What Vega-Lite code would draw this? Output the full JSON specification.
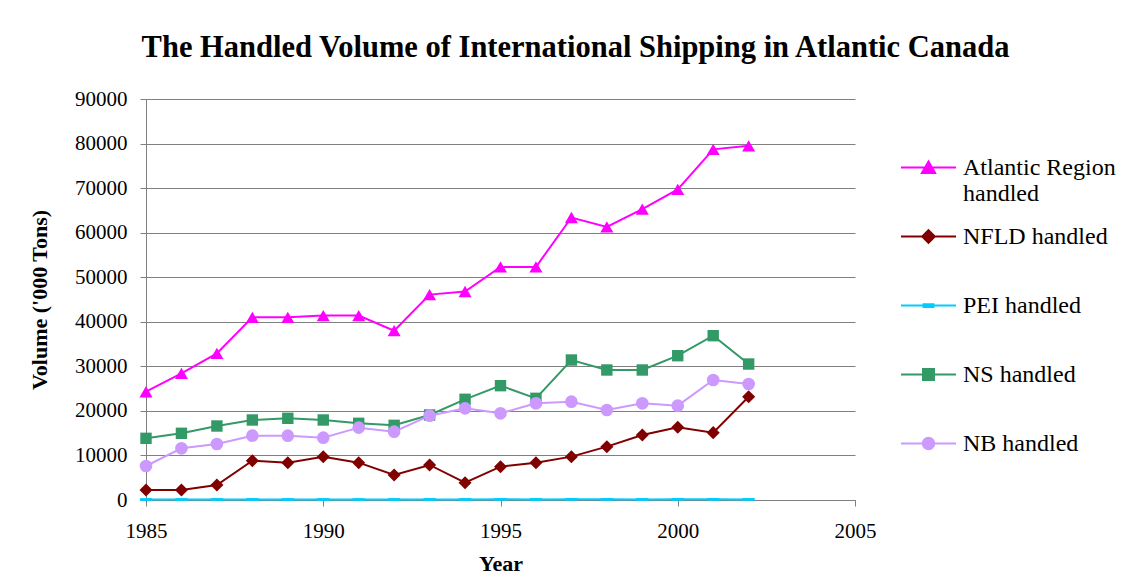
{
  "$schema": "https://vega.github.io/schema/vega-lite/v6.json",
  "width": 709,
  "height": 401,
  "autosize": {"type": "none"},
  "padding": {"left": 146, "top": 99, "right": 280, "bottom": 83},
  "background": "white",
  "title": {
    "text": "The Handled Volume of International Shipping in Atlantic Canada",
    "font": "Liberation Serif",
    "fontSize": 30.5,
    "fontWeight": "bold",
    "color": "black",
    "anchor": "middle",
    "baseline": "alphabetic",
    "offset": 1,
    "dx": 75
  },
  "config": {
    "view": {"stroke": null},
    "font": "Liberation Serif",
    "axis": {
      "labelFont": "Liberation Serif",
      "titleFont": "Liberation Serif",
      "labelColor": "black",
      "titleColor": "black",
      "domainColor": "#808080",
      "tickColor": "#808080",
      "gridColor": "#808080",
      "gridOpacity": 1,
      "domainWidth": 1,
      "tickWidth": 1,
      "gridWidth": 1,
      "tickSize": 6,
      "labelFontSize": 21,
      "titleFontSize": 22,
      "titleFontWeight": "bold"
    },
    "legend": {
      "labelFont": "Liberation Serif",
      "labelFontSize": 24,
      "labelColor": "black",
      "symbolStrokeWidth": 2,
      "symbolSize": 3025,
      "symbolOpacity": 1
    }
  },
  "data": {
    "values": [
      {"year": 1985, "series": "Atlantic Region handled", "value": 24300},
      {"year": 1986, "series": "Atlantic Region handled", "value": 28400},
      {"year": 1987, "series": "Atlantic Region handled", "value": 32900},
      {"year": 1988, "series": "Atlantic Region handled", "value": 41000},
      {"year": 1989, "series": "Atlantic Region handled", "value": 41000},
      {"year": 1990, "series": "Atlantic Region handled", "value": 41400},
      {"year": 1991, "series": "Atlantic Region handled", "value": 41400},
      {"year": 1992, "series": "Atlantic Region handled", "value": 38000},
      {"year": 1993, "series": "Atlantic Region handled", "value": 46100},
      {"year": 1994, "series": "Atlantic Region handled", "value": 46800},
      {"year": 1995, "series": "Atlantic Region handled", "value": 52300},
      {"year": 1996, "series": "Atlantic Region handled", "value": 52300},
      {"year": 1997, "series": "Atlantic Region handled", "value": 63400},
      {"year": 1998, "series": "Atlantic Region handled", "value": 61300},
      {"year": 1999, "series": "Atlantic Region handled", "value": 65300},
      {"year": 2000, "series": "Atlantic Region handled", "value": 69700},
      {"year": 2001, "series": "Atlantic Region handled", "value": 78700},
      {"year": 2002, "series": "Atlantic Region handled", "value": 79500},
      {"year": 1985, "series": "NFLD handled", "value": 2240},
      {"year": 1986, "series": "NFLD handled", "value": 2240},
      {"year": 1987, "series": "NFLD handled", "value": 3370},
      {"year": 1988, "series": "NFLD handled", "value": 8830},
      {"year": 1989, "series": "NFLD handled", "value": 8380},
      {"year": 1990, "series": "NFLD handled", "value": 9730},
      {"year": 1991, "series": "NFLD handled", "value": 8380},
      {"year": 1992, "series": "NFLD handled", "value": 5610},
      {"year": 1993, "series": "NFLD handled", "value": 7860},
      {"year": 1994, "series": "NFLD handled", "value": 3890},
      {"year": 1995, "series": "NFLD handled", "value": 7480},
      {"year": 1996, "series": "NFLD handled", "value": 8380},
      {"year": 1997, "series": "NFLD handled", "value": 9730},
      {"year": 1998, "series": "NFLD handled", "value": 11970},
      {"year": 1999, "series": "NFLD handled", "value": 14590},
      {"year": 2000, "series": "NFLD handled", "value": 16310},
      {"year": 2001, "series": "NFLD handled", "value": 15120},
      {"year": 2002, "series": "NFLD handled", "value": 23190},
      {"year": 1985, "series": "PEI handled", "value": 120},
      {"year": 1986, "series": "PEI handled", "value": 110},
      {"year": 1987, "series": "PEI handled", "value": 130},
      {"year": 1988, "series": "PEI handled", "value": 140},
      {"year": 1989, "series": "PEI handled", "value": 120},
      {"year": 1990, "series": "PEI handled", "value": 130},
      {"year": 1991, "series": "PEI handled", "value": 110},
      {"year": 1992, "series": "PEI handled", "value": 120},
      {"year": 1993, "series": "PEI handled", "value": 140},
      {"year": 1994, "series": "PEI handled", "value": 130},
      {"year": 1995, "series": "PEI handled", "value": 150},
      {"year": 1996, "series": "PEI handled", "value": 140},
      {"year": 1997, "series": "PEI handled", "value": 160},
      {"year": 1998, "series": "PEI handled", "value": 150},
      {"year": 1999, "series": "PEI handled", "value": 140},
      {"year": 2000, "series": "PEI handled", "value": 160},
      {"year": 2001, "series": "PEI handled", "value": 150},
      {"year": 2002, "series": "PEI handled", "value": 140},
      {"year": 1985, "series": "NS handled", "value": 13840},
      {"year": 1986, "series": "NS handled", "value": 14970},
      {"year": 1987, "series": "NS handled", "value": 16610},
      {"year": 1988, "series": "NS handled", "value": 17960},
      {"year": 1989, "series": "NS handled", "value": 18330},
      {"year": 1990, "series": "NS handled", "value": 17960},
      {"year": 1991, "series": "NS handled", "value": 17210},
      {"year": 1992, "series": "NS handled", "value": 16760},
      {"year": 1993, "series": "NS handled", "value": 19080},
      {"year": 1994, "series": "NS handled", "value": 22600},
      {"year": 1995, "series": "NS handled", "value": 25660},
      {"year": 1996, "series": "NS handled", "value": 22820},
      {"year": 1997, "series": "NS handled", "value": 31420},
      {"year": 1998, "series": "NS handled", "value": 29180},
      {"year": 1999, "series": "NS handled", "value": 29180},
      {"year": 2000, "series": "NS handled", "value": 32390},
      {"year": 2001, "series": "NS handled", "value": 36880},
      {"year": 2002, "series": "NS handled", "value": 30520},
      {"year": 1985, "series": "NB handled", "value": 7630},
      {"year": 1986, "series": "NB handled", "value": 11600},
      {"year": 1987, "series": "NB handled", "value": 12570},
      {"year": 1988, "series": "NB handled", "value": 14440},
      {"year": 1989, "series": "NB handled", "value": 14440},
      {"year": 1990, "series": "NB handled", "value": 13990},
      {"year": 1991, "series": "NB handled", "value": 16240},
      {"year": 1992, "series": "NB handled", "value": 15340},
      {"year": 1993, "series": "NB handled", "value": 18930},
      {"year": 1994, "series": "NB handled", "value": 20570},
      {"year": 1995, "series": "NB handled", "value": 19450},
      {"year": 1996, "series": "NB handled", "value": 21700},
      {"year": 1997, "series": "NB handled", "value": 22070},
      {"year": 1998, "series": "NB handled", "value": 20200},
      {"year": 1999, "series": "NB handled", "value": 21700},
      {"year": 2000, "series": "NB handled", "value": 21170},
      {"year": 2001, "series": "NB handled", "value": 26930},
      {"year": 2002, "series": "NB handled", "value": 26030}
    ]
  },
  "encoding": {
    "x": {
      "field": "year",
      "type": "quantitative",
      "scale": {"domain": [1985, 2005], "nice": false, "zero": false},
      "axis": {
        "title": "Year",
        "values": [1985, 1990, 1995, 2000, 2005],
        "format": "d",
        "grid": false,
        "labelPadding": 14,
        "titlePadding": 12,
        "labelFlush": false
      }
    },
    "y": {
      "field": "value",
      "type": "quantitative",
      "scale": {"domain": [0, 90000], "nice": false},
      "axis": {
        "title": "Volume ('000 Tons)",
        "values": [0, 10000, 20000, 30000, 40000, 50000, 60000, 70000, 80000, 90000],
        "format": "d",
        "grid": true,
        "labelPadding": 13,
        "titlePadding": 23
      }
    }
  },
  "layer": [
    {
      "transform": [{"filter": "datum.series == 'Atlantic Region handled'"}],
      "mark": {"type": "line", "strokeWidth": 2, "color": "#FF00FF"},
      "encoding": {"order": {"field": "year"}}
    },
    {
      "transform": [{"filter": "datum.series == 'NFLD handled'"}],
      "mark": {"type": "line", "strokeWidth": 2, "color": "#800000"},
      "encoding": {"order": {"field": "year"}}
    },
    {
      "transform": [{"filter": "datum.series == 'PEI handled'"}],
      "mark": {"type": "line", "strokeWidth": 2, "color": "#00CCFF"},
      "encoding": {"order": {"field": "year"}}
    },
    {
      "transform": [{"filter": "datum.series == 'NS handled'"}],
      "mark": {"type": "line", "strokeWidth": 2, "color": "#339966"},
      "encoding": {"order": {"field": "year"}}
    },
    {
      "transform": [{"filter": "datum.series == 'NB handled'"}],
      "mark": {"type": "line", "strokeWidth": 2, "color": "#CC99FF"},
      "encoding": {"order": {"field": "year"}}
    },
    {
      "transform": [{"filter": "datum.series == 'Atlantic Region handled'"}],
      "mark": {"type": "point", "filled": true, "opacity": 1, "size": 170, "shape": "triangle-up", "color": "#FF00FF"},
      "encoding": {}
    },
    {
      "transform": [{"filter": "datum.series == 'NFLD handled'"}],
      "mark": {"type": "point", "filled": true, "opacity": 1, "size": 170, "shape": "diamond", "color": "#800000"},
      "encoding": {}
    },
    {
      "transform": [{"filter": "datum.series == 'PEI handled'"}],
      "mark": {"type": "point", "filled": true, "opacity": 1, "size": 150, "shape": "M-1,-0.22H1V0.22H-1Z", "color": "#00CCFF"},
      "encoding": {}
    },
    {
      "transform": [{"filter": "datum.series == 'NS handled'"}],
      "mark": {"type": "point", "filled": true, "opacity": 1, "size": 130, "shape": "square", "color": "#339966"},
      "encoding": {}
    },
    {
      "transform": [{"filter": "datum.series == 'NB handled'"}],
      "mark": {"type": "point", "filled": true, "opacity": 1, "size": 160, "shape": "circle", "color": "#CC99FF"},
      "encoding": {}
    },
    {
      "transform": [{"filter": "datum.value < 0"}],
      "mark": {"type": "point", "filled": true, "size": 3025, "strokeWidth": 2, "opacity": 1},
      "encoding": {
        "fill": {
          "field": "series",
          "type": "nominal",
          "scale": {
            "domain": ["Atlantic Region handled", "NFLD handled", "PEI handled", "NS handled", "NB handled"],
            "range": ["#FF00FF", "#800000", "#00CCFF", "#339966", "#CC99FF"]
          },
          "legend": {
            "title": null,
            "orient": "none",
            "legendX": 754,
            "legendY": 40,
            "padding": 0,
            "labelOffset": 6,
            "labelLimit": 300,
            "rowPadding": 2,
            "symbolOpacity": 1,
            "labelExpr": "datum.label == 'Atlantic Region handled' ? ['Atlantic Region', 'handled'] : [datum.label, '']"
          }
        },
        "stroke": {
          "field": "series",
          "type": "nominal",
          "scale": {
            "domain": ["Atlantic Region handled", "NFLD handled", "PEI handled", "NS handled", "NB handled"],
            "range": ["#FF00FF", "#800000", "#00CCFF", "#339966", "#CC99FF"]
          },
          "legend": {
            "title": null,
            "orient": "none",
            "legendX": 754,
            "legendY": 40,
            "padding": 0,
            "labelOffset": 6,
            "labelLimit": 300,
            "rowPadding": 2,
            "symbolOpacity": 1,
            "labelExpr": "datum.label == 'Atlantic Region handled' ? ['Atlantic Region', 'handled'] : [datum.label, '']"
          }
        },
        "shape": {
          "field": "series",
          "type": "nominal",
          "scale": {
            "domain": ["Atlantic Region handled", "NFLD handled", "PEI handled", "NS handled", "NB handled"],
            "range": [
              "M-1,0H1M0,-0.22L0.24,0.2H-0.24Z",
              "M-1,0H1M0,-0.23L0.23,0L0,0.23L-0.23,0Z",
              "M-1,0H1M-0.18,-0.05H0.18V0.05H-0.18Z",
              "M-1,0H1M-0.2,-0.2H0.2V0.2H-0.2Z",
              "M-1,0H1M0.21,0L0.194,0.08L0.148,0.148L0.08,0.194L0,0.21L-0.08,0.194L-0.148,0.148L-0.194,0.08L-0.21,0L-0.194,-0.08L-0.148,-0.148L-0.08,-0.194L0,-0.21L0.08,-0.194L0.148,-0.148L0.194,-0.08Z"
            ]
          },
          "legend": {
            "title": null,
            "orient": "none",
            "legendX": 754,
            "legendY": 40,
            "padding": 0,
            "labelOffset": 6,
            "labelLimit": 300,
            "rowPadding": 2,
            "symbolOpacity": 1,
            "labelExpr": "datum.label == 'Atlantic Region handled' ? ['Atlantic Region', 'handled'] : [datum.label, '']"
          }
        }
      }
    }
  ]
}
